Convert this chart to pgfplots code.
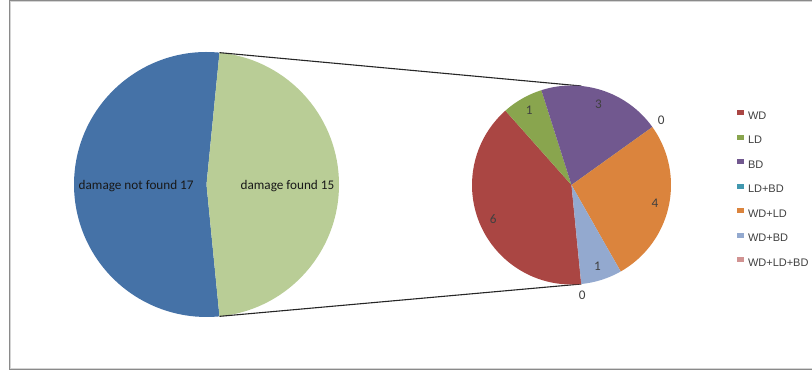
\documentclass[border=0pt]{standalone}
\usepackage{pgfplots}
\usepackage{pgfplotstable}
\pgfplotsset{compat=1.18}
\usepackage{fontspec}
\setmainfont{Carlito}
\newfontfamily\legendfont{Liberation Sans}

% Excel 2007 palette
\definecolor{mainA}{HTML}{4572A7}
\definecolor{mainB}{HTML}{B9CD96}
\definecolor{c0}{HTML}{AA4643}
\definecolor{c1}{HTML}{89A54E}
\definecolor{c2}{HTML}{71588F}
\definecolor{c3}{HTML}{4198AF}
\definecolor{c4}{HTML}{DB843D}
\definecolor{c5}{HTML}{93A9CF}
\definecolor{c6}{HTML}{D19392}
\definecolor{labtext}{HTML}{404040}
\definecolor{frameout}{HTML}{8A8A8A}
\definecolor{framein}{HTML}{D4D4D4}

% overview: the second row is broken down in the small pie
\pgfplotstableread{
label value
{damage not found} 17
{damage found} 15
}\overview

\pgfplotstableread{
label value
WD 6
LD 1
BD 3
LD+BD 0
WD+LD 4
WD+BD 1
WD+LD+BD 0
}\breakdown

\begin{document}
\begin{tikzpicture}
\begin{axis}[
  width=812pt, height=370pt, scale only axis,
  xmin=0, xmax=812, ymin=0, ymax=370,
  hide axis, clip=false,
  legend image code/.code={\fill[#1] (0pt,1pt) rectangle (7pt,6pt);},
  legend cell align=left,
  legend style={at={(axis cs:737,259.8)}, anchor=north west,
    draw=none, fill=none, inner sep=0pt, outer sep=0pt,
    font=\legendfont\fontsize{11}{13}\selectfont, text=labtext,
    row sep=13.5pt,
    nodes={inner sep=0pt, text height=8pt, text depth=2pt},
    /tikz/every odd column/.append style={column sep=4pt}},
]
% chart frame (right side runs past the edge)
\draw[frameout, line width=1pt] (axis cs:830,369.3) -- (axis cs:9.5,369.3) -- (axis cs:9.5,0.7) -- (axis cs:830,0.7);
\draw[framein, line width=0.8pt] (axis cs:830,368.2) -- (axis cs:10.6,368.2) -- (axis cs:10.6,1.8) -- (axis cs:830,1.8);

% ---- main pie ----
\pgfplotstablegetelem{0}{value}\of\overview \let\vA\pgfplotsretval
\pgfplotstablegetelem{1}{value}\of\overview \let\vB\pgfplotsretval
\pgfplotstablegetelem{0}{label}\of\overview \let\lA\pgfplotsretval
\pgfplotstablegetelem{1}{label}\of\overview \let\lB\pgfplotsretval
\pgfmathsetmacro\halfB{180*\vB/(\vA+\vB)}
\pgfmathsetmacro\endA{360-\halfB}
\pgfmathsetmacro\negB{-\halfB}

\fill[mainA] (axis cs:206.5,185.5) -- ++(\halfB:132.5pt) arc[start angle=\halfB, end angle=\endA, radius=132.5pt] -- cycle;
\fill[mainB] (axis cs:206.5,185.5) -- ++(\negB:132.5pt) arc[start angle=\negB, end angle=\halfB, radius=132.5pt] -- cycle;

\node[anchor=west, inner sep=0pt, text=black!90, font=\fontsize{13.2}{15}\selectfont]
  at (axis cs:78.5,184) {\lA\ \vA};
\node[anchor=east, inner sep=0pt, text=black!90, font=\fontsize{13.2}{15}\selectfont]
  at (axis cs:334.5,184) {\lB\ \vB};

% connector lines between the two pies
\pgfmathsetmacro\xa{206.5+132.5*cos(\halfB)}
\pgfmathsetmacro\ya{185.5+132.5*sin(\halfB)}
\pgfmathsetmacro\xb{571.5+99.5*cos(\halfB)}
\pgfmathsetmacro\yb{185+99.5*sin(\halfB)}
\pgfmathsetmacro\yc{185.5-132.5*sin(\halfB)}
\pgfmathsetmacro\yd{185-99.5*sin(\halfB)}
\draw[black!85, line width=1.1pt] (axis cs:\xa,\ya) -- (axis cs:\xb,\yb);
\draw[black!85, line width=1.1pt] (axis cs:\xa,\yc) -- (axis cs:\xb,\yd);

% ---- breakdown pie ----
\def\tot{0}
\pgfplotsforeachungrouped \i in {0,...,6}{%
  \pgfplotstablegetelem{\i}{value}\of\breakdown
  \pgfmathsetmacro\tot{\tot+\pgfplotsretval}%
}
\def\cum{0}
\pgfplotsforeachungrouped \i in {0,...,6}{%
  \pgfplotstablegetelem{\i}{value}\of\breakdown \let\v\pgfplotsretval
  \pgfplotstablegetelem{\i}{label}\of\breakdown \let\lab\pgfplotsretval
  \pgfmathsetmacro\sa{-\halfB - 360*\cum/\tot}%
  \pgfmathsetmacro\ea{\sa - 360*\v/\tot}%
  \pgfmathsetmacro\ma{(\sa+\ea)/2}%
  \pgfmathsetmacro\lr{\v > 0 ? 0.86*99.5 : 1.11*99.5}%
  \pgfmathtruncatemacro\vi{\v}%
  \edef\temp{%
    \noexpand\fill[c\i] (axis cs:571.5,185) -- ++(\sa:99.5pt)
      arc[start angle=\sa, end angle=\ea, radius=99.5pt] -- cycle;
    \noexpand\path (axis cs:571.5,185) ++(\ma:\lr pt)
      node[text=labtext, font=\noexpand\fontsize{13.2}{15}\noexpand\selectfont] {\vi};
    \noexpand\addlegendimage{fill=c\i, draw=none}
    \noexpand\addlegendentry{\lab}
  }\temp
  \pgfmathsetmacro\cum{\cum+\v}%
}
\end{axis}
\pgfresetboundingbox
\useasboundingbox (0,0) rectangle (812pt,370pt);
\end{tikzpicture}
\end{document}
